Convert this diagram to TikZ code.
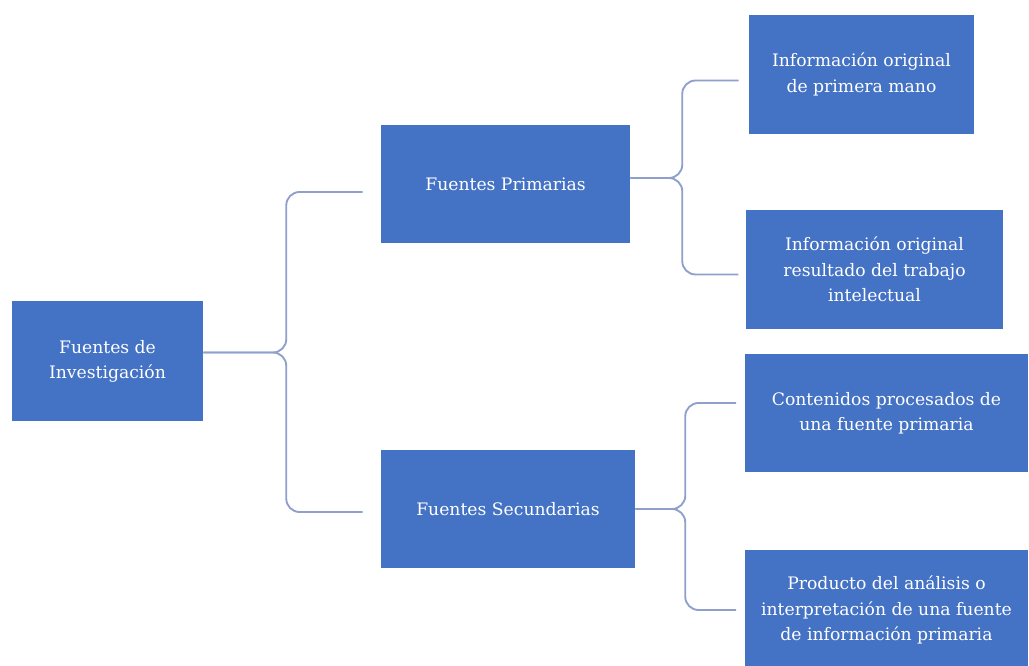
\documentclass[tikz,border=0pt]{standalone}
\usepackage{fontspec}
\setmainfont{DejaVu Serif}
\usepackage{xcolor}
\usepackage{tikz}
\usetikzlibrary{positioning,calc}

\definecolor{boxblue}{HTML}{4472C4}
\definecolor{bracegray}{HTML}{8EA0CB}

\begin{document}
\begin{tikzpicture}[
    x=0.75pt, y=-0.75pt,
    box/.style={rectangle, fill=boxblue, text=white, align=center, inner sep=2pt, font=\fontsize{12.9}{19}\selectfont},
    brace/.style={draw=bracegray, line width=1.4pt, rounded corners=10pt, shorten >=13.5pt}
]
    \useasboundingbox (0,0) rectangle (1029,666);

    \node [box, minimum width=143.25pt, minimum height=90pt] (root) at (107.5,361.5) {Fuentes de\\Investigación};
    \node [box, minimum width=186.75pt, minimum height=88.5pt] (pri) at (505.5,184) {Fuentes Primarias};
    \node [box, minimum width=190.5pt, minimum height=88.5pt] (sec) at (508,509) {Fuentes Secundarias};

    \node [box, minimum width=168.75pt, minimum height=89.25pt] (inf1) at (861.5,74.5) {Información original\\de primera mano};
    \node [box, minimum width=192.75pt, minimum height=89.25pt] (inf2) at (874.5,269.5) {Información original\\resultado del trabajo\\intelectual};
    \node [box, minimum width=212.25pt, minimum height=88.5pt] (inf3) at (886.5,413) {Contenidos procesados de\\una fuente primaria};
    \node [box, minimum width=212.25pt, minimum height=90pt] (inf4) at (886.5,610) {Producto del análisis o\\interpretación de una fuente\\de información primaria};

    % llaves
    \draw [brace] ($(root.east)+(0,-9)$) -- ++(83,0) |- ($(pri.west)+(0,8)$);
    \draw [brace] ($(root.east)+(0,-9)$) -- ++(83,0) |- ($(sec.west)+(0,3)$);

    \draw [brace, shorten >=7.5pt] ($(pri.east)+(0,-6)$) -- ++(52,0) |- ($(inf1.west)+(0,6)$);
    \draw [brace, shorten >=5.5pt] ($(pri.east)+(0,-6)$) -- ++(52,0) |- ($(inf2.west)+(0,5)$);

    \draw [brace, shorten >=6.5pt] (sec.east) -- ++(50,0) |- ($(inf3.west)+(0,-10)$);
    \draw [brace, shorten >=6.5pt] (sec.east) -- ++(50,0) |- (inf4.west);
\end{tikzpicture}
\end{document}
